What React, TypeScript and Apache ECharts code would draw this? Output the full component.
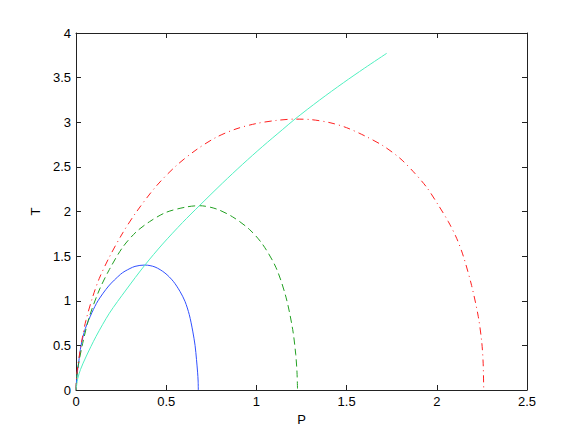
import React, { useEffect, useRef } from "react";
import * as echarts from "echarts";

// Axis ticks
const xTicks = [0, 0.5, 1, 1.5, 2, 2.5];
const yTicks = [0, 0.5, 1, 1.5, 2, 2.5, 3, 3.5, 4];

// Blue solid curve (P, T)
const blueP = [0, 0.005, 0.015, 0.028, 0.052, 0.089, 0.122, 0.181, 0.246, 0.272, 0.327, 0.382, 0.438, 0.493, 0.539, 0.576, 0.604, 0.628, 0.647, 0.66, 0.668, 0.674, 0.677, 0.678];
const blueT = [0, 0.16, 0.31, 0.5, 0.69, 0.87, 1.0, 1.165, 1.295, 1.332, 1.385, 1.4, 1.378, 1.311, 1.218, 1.106, 0.994, 0.844, 0.66, 0.5, 0.34, 0.2, 0.1, 0];

// Green dashed curve
const greenP = [0, 0.005, 0.015, 0.037, 0.074, 0.129, 0.185, 0.259, 0.333, 0.407, 0.499, 0.61, 0.684, 0.776, 0.868, 0.961, 1.035, 1.109, 1.164, 1.201, 1.218, 1.225, 1.228];
const greenT = [0, 0.16, 0.3, 0.523, 0.82, 1.12, 1.35, 1.6, 1.77, 1.885, 1.99, 2.05, 2.065, 2.03, 1.94, 1.8, 1.63, 1.37, 1.04, 0.68, 0.4, 0.2, 0];

// Red dash-dot curve
const redP = [0, 0.005, 0.018, 0.035, 0.055, 0.092, 0.129, 0.185, 0.259, 0.333, 0.443, 0.554, 0.665, 0.776, 0.887, 0.998, 1.109, 1.21, 1.3, 1.408, 1.5, 1.602, 1.704, 1.796, 1.87, 1.944, 2.008, 2.064, 2.11, 2.147, 2.193, 2.23, 2.249, 2.257, 2.26];
const redT = [0, 0.18, 0.38, 0.585, 0.78, 1.04, 1.25, 1.49, 1.76, 1.99, 2.28, 2.51, 2.689, 2.83, 2.925, 2.985, 3.02, 3.035, 3.03, 2.995, 2.939, 2.846, 2.734, 2.596, 2.446, 2.271, 2.073, 1.886, 1.7, 1.5, 1.17, 0.822, 0.54, 0.3, 0];

// Cyan curve (locus of maxima)
const cyanP = [0, 0.01, 0.025, 0.055, 0.111, 0.185, 0.277, 0.382, 0.48, 0.591, 0.684, 0.813, 0.924, 1.035, 1.146, 1.214, 1.35, 1.482, 1.6, 1.722];
const cyanT = [0, 0.13, 0.23, 0.37, 0.6, 0.86, 1.12, 1.4, 1.635, 1.877, 2.065, 2.32, 2.53, 2.73, 2.92, 3.036, 3.248, 3.442, 3.607, 3.772];

const zip = (a: number[], b: number[]) => a.map((v, i) => [v, b[i]]);

const FONT = "'Liberation Sans', Arial, Helvetica, sans-serif";
const AX = "#222";

export default function App() {
  const ref = useRef<HTMLDivElement>(null);
  useEffect(() => {
    if (!ref.current) return;
    const chart = echarts.init(ref.current, undefined, { renderer: "svg" });
    const xMin = xTicks[0], xMax = xTicks[xTicks.length - 1];
    const yMin = yTicks[0], yMax = yTicks[yTicks.length - 1];
    const xInt = xTicks[1] - xTicks[0];
    const yInt = yTicks[1] - yTicks[0];
    const baseAxis = {
      type: "value" as const,
      splitLine: { show: false },
      axisLine: { show: true, onZero: false, lineStyle: { color: AX, width: 1 } },
      axisTick: { show: true, inside: true, length: 5, lineStyle: { color: AX } },
    };
    const lbl = { color: "#000", fontSize: 13, fontFamily: FONT };
    chart.setOption({
      animation: false,
      backgroundColor: "#fff",
      grid: { left: 76, right: 55, top: 33, bottom: 48, containLabel: false },
      xAxis: [
        {
          ...baseAxis,
          position: "bottom",
          min: xMin, max: xMax, interval: xInt,
          axisLabel: { ...lbl, margin: 5, formatter: (v: number) => String(v) },
          name: "P",
          nameLocation: "middle",
          nameGap: 21,
          nameTextStyle: { ...lbl },
        },
        {
          ...baseAxis,
          position: "top",
          min: xMin, max: xMax, interval: xInt,
          axisLabel: { show: false },
        },
      ],
      yAxis: [
        {
          ...baseAxis,
          position: "left",
          min: yMin, max: yMax, interval: yInt,
          axisLabel: { ...lbl, margin: 5, formatter: (v: number) => String(v) },
          name: "T",
          nameLocation: "middle",
          nameRotate: 90,
          nameGap: 31,
          nameTextStyle: { ...lbl },
        },
        {
          ...baseAxis,
          position: "right",
          min: yMin, max: yMax, interval: yInt,
          axisLabel: { show: false },
        },
      ],
      series: [
        {
          type: "line", data: zip(blueP, blueT), showSymbol: false, smooth: 0.3,
          lineStyle: { color: "#3050ff", width: 1 },
        },
        {
          type: "line", data: zip(greenP, greenT), showSymbol: false, smooth: 0.3,
          lineStyle: { color: "#22a022", width: 1, type: [7, 4] },
        },
        {
          type: "line", data: zip(redP, redT), showSymbol: false, smooth: 0.3,
          lineStyle: { color: "#ff2020", width: 1, type: [7, 4, 1, 4] },
        },
        {
          type: "line", data: zip(cyanP, cyanT), showSymbol: false, smooth: 0.3,
          lineStyle: { color: "#50f0c0", width: 1 },
        },
      ],
    });
    return () => chart.dispose();
  }, []);
  return (
    <div
      ref={ref}
      style={{ position: "fixed", left: 0, top: 0, width: 582, height: 438, background: "#fff" }}
    />
  );
}
